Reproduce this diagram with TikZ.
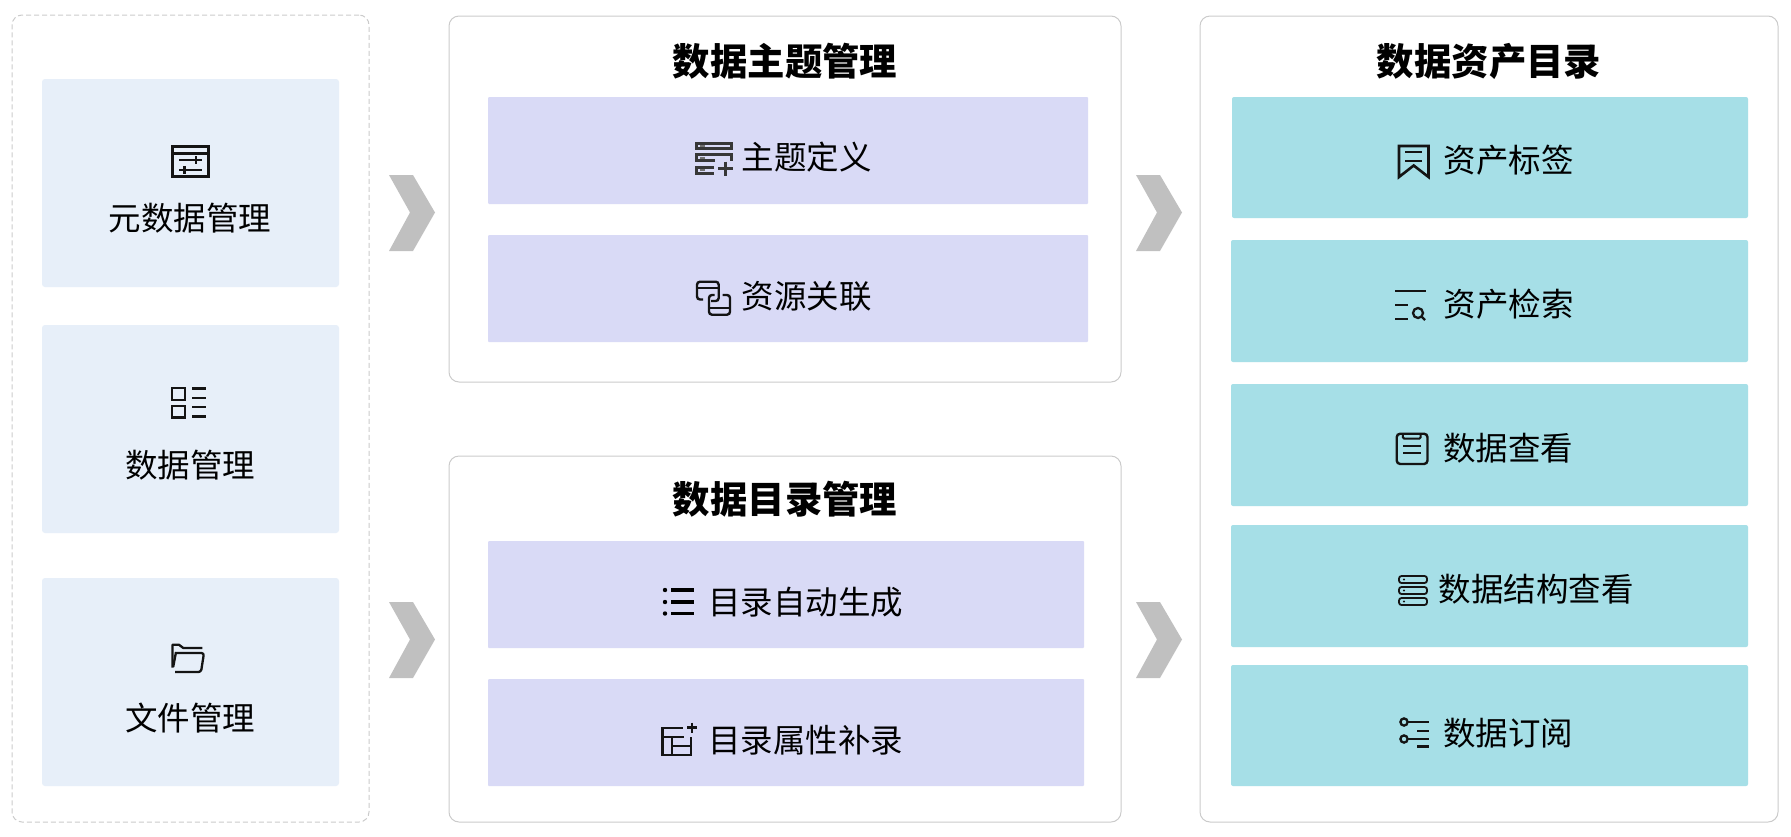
\documentclass[tikz,border=0pt]{standalone}
\usepackage{fontspec}
\setmainfont{Noto Sans CJK SC}
\definecolor{cardblue}{HTML}{E7EFF9}
\definecolor{cardviolet}{HTML}{D9DAF6}
\definecolor{cardteal}{HTML}{A6DFE7}
\definecolor{edgegray}{HTML}{CBCBCB}
\definecolor{chevgray}{HTML}{C0C0C0}
\definecolor{inkgray}{HTML}{141414}
\tikzset{
  panel/.style={rectangle,draw=edgegray,line width=1pt,fill=white,rounded corners=10pt,inner sep=0pt},
  dashpanel/.style={panel,dash pattern=on 5pt off 3pt},
  card/.style={rectangle,rounded corners=3pt,inner sep=0pt},
  bluecard/.style={card,fill=cardblue},
  violetcard/.style={card,fill=cardviolet,rounded corners=1pt},
  tealcard/.style={card,fill=cardteal,rounded corners=2pt},
  label/.style={inner sep=0pt,text height=28.6pt,text depth=3.9pt,text=black,font=\fontsize{32.5}{32.5}\selectfont},
  heading/.style={inner sep=0pt,text height=32.9pt,text depth=4.5pt,text=black,font=\fontsize{37.4}{37.4}\selectfont\bfseries},
  ico/.style={draw=inkgray,line width=2.3pt,line cap=butt},
  thickico/.style={draw=inkgray!85,line width=3pt},
  chev/.style={fill=chevgray,draw=none},
}
\begin{document}
\begin{tikzpicture}[x=1pt,y=-1pt]
\useasboundingbox (0,0) rectangle (1791,836);
% panels
\node[dashpanel,minimum width=357pt,minimum height=807pt] (left) at (190.5,418.5) {};
\node[panel,minimum width=672pt,minimum height=366pt] (topic) at (785,199) {};
\node[panel,minimum width=672pt,minimum height=366pt] (catalog) at (785,639) {};
\node[panel,minimum width=578pt,minimum height=806pt] (asset) at (1489,419) {};
% left cards
\node[bluecard,minimum width=297pt,minimum height=208pt] (c1) at (190.5,183) {};
\node[bluecard,minimum width=297pt,minimum height=208pt] (c2) at (190.5,429) {};
\node[bluecard,minimum width=297pt,minimum height=208pt] (c3) at (190.5,682) {};
\node[label] (t1) at (190,218.5) {元数据管理};
\node[label] (t2) at (190,465.5) {数据管理};
\node[label] (t3) at (190,718.5) {文件管理};
% middle cards
\node[violetcard,minimum width=600pt,minimum height=107pt] (m1) at (788,150.5) {};
\node[violetcard,minimum width=600pt,minimum height=107pt] (m2) at (788,288.5) {};
\node[violetcard,minimum width=596pt,minimum height=107pt] (m3) at (786,594.5) {};
\node[violetcard,minimum width=596pt,minimum height=107pt] (m4) at (786,732.5) {};
\node[heading] (h1) at (785,61.5) {数据主题管理};
\node[heading] (h2) at (785,499.5) {数据目录管理};
\node[label] (t4) at (806.5,157.5) {主题定义};
\node[label] (t5) at (806.5,296.5) {资源关联};
\node[label] (t6) at (805.5,602.5) {目录自动生成};
\node[label] (t7) at (805.5,740.5) {目录属性补录};
% right cards
\node[tealcard,minimum width=516pt,minimum height=121pt] (r1) at (1490,157.5) {};
\node[tealcard,minimum width=517pt,minimum height=122pt] (r2) at (1489.5,301) {};
\node[tealcard,minimum width=517pt,minimum height=122pt] (r3) at (1489.5,445) {};
\node[tealcard,minimum width=517pt,minimum height=122pt] (r4) at (1489.5,586) {};
\node[tealcard,minimum width=517pt,minimum height=121pt] (r5) at (1489.5,725.5) {};
\node[heading] (h3) at (1489,61.5) {数据资产目录};
\node[label] (t8) at (1508.5,160.5) {资产标签};
\node[label] (t9) at (1508.5,304.5) {资产检索};
\node[label] (t10) at (1508,448.5) {数据查看};
\node[label] (t11) at (1536,589.5) {数据结构查看};
\node[label] (t12) at (1508,733.5) {数据订阅};
% chevrons
\fill[chev] (389,175) -- (413,175) -- (435,212.5) -- (413,251) -- (389,251) -- (410,212.5) -- cycle;
\fill[chev] (389,602) -- (413,602) -- (435,639.5) -- (413,678) -- (389,678) -- (410,639.5) -- cycle;
\fill[chev] (1136,175) -- (1160,175) -- (1182,212.5) -- (1160,251) -- (1136,251) -- (1157,212.5) -- cycle;
\fill[chev] (1136,602) -- (1160,602) -- (1182,639.5) -- (1160,678) -- (1136,678) -- (1157,639.5) -- cycle;
% icon: metadata
\draw[ico,line width=2.6pt] (172.5,146.3) rectangle (208.3,176.3);
\draw[ico] (172.5,153.5) -- (208.3,153.5);
\draw[ico,line width=2pt] (179,160.3) -- (201.7,160.3) (179,169.7) -- (201.7,169.7);
\draw[ico,line width=2.6pt] (196,156.3) -- (196,164.3) (184.3,166) -- (184.3,173.5);
% icon: data
\draw[ico] (172,388) rectangle (185,400) (172,406) rectangle (185,417.5);
\draw[ico] (192,388.5) -- (206,388.5) (192,398) -- (206,398) (192,407) -- (206,407) (192,416.5) -- (206,416.5);
% icon: folder
\draw[ico,line join=round] (172.5,667.5) -- (172.5,644.8) -- (179,644.8) -- (183.3,648) -- (202.3,648);
\draw[ico,line join=round,rounded corners=2.5pt] (175.5,653) -- (204,653) -- (201,672) -- (175,672);
\draw[ico] (176,652) -- (173.2,667);
% icon: topic definition
\draw[thickico] (696,143) rectangle (731,148.7);
\draw[thickico] (715,160) -- (696,160) -- (696,154) -- (731,154) -- (731,160.5);
\draw[thickico] (714,167) -- (696,167) -- (696,173.5) -- (714,173.5);
\draw[thickico,line width=3.2pt] (718,168.7) -- (733,168.7) (725.7,161.5) -- (725.7,176);
\draw[ico,line width=1.6pt,draw=inkgray!60] (700,145.8) -- (704.5,145.8) (700,157.7) -- (704.5,157.7) (700,170.2) -- (704.5,170.2);
% icon: resource link
\draw[ico,rounded corners=3pt,line width=2.4pt] (703,299.5) -- (697,299.5) -- (697,281.7) -- (718.7,281.7) -- (718.7,301) -- (711,301);
\draw[ico,line width=2pt] (697,287.5) -- (718.7,287.5);
\draw[ico,rounded corners=3pt,line width=2.4pt] (714.5,295) -- (709,295) -- (709,314.7) -- (730,314.7) -- (730,295) -- (722.5,295);
\draw[ico,line width=2pt] (709,308.3) -- (730,308.3);
% icon: list
\fill[black] (665,590) circle (2.2pt) (665,602) circle (2.2pt) (665,613.5) circle (2.2pt);
\draw[ico,draw=black,line width=3.4pt] (671,590) -- (694,590) (671,602) -- (694,602) (671,613.5) -- (694,613.5);
% icon: attribute fill
\draw[ico,line join=miter] (682.5,727.7) -- (662.5,727.7) -- (662.5,755) -- (691,755) -- (691,737);
\draw[ico] (662.5,737) -- (683.5,737) (672.3,737) -- (672.3,755) (672.3,745.8) -- (691,745.8);
\draw[ico,line width=2.6pt] (687,727.7) -- (697,727.7) (692,722.7) -- (692,732.7);
% icon: bookmark
\draw[ico,line width=2.6pt,line join=miter] (1399,146) -- (1428.5,146) -- (1428.5,177) -- (1413.7,165.5) -- (1399,177) -- cycle;
\draw[ico] (1405,152) -- (1422,152) (1405,161) -- (1422,161);
% icon: search
\draw[ico] (1395,291) -- (1426,291) (1395,305) -- (1408,305) (1395,319) -- (1408,319);
\draw[ico] (1418,313) circle (5pt);
\draw[ico] (1421.5,316.5) -- (1425,320);
% icon: view
\draw[ico,rounded corners=3.5pt,line width=2.4pt] (1396.7,433.7) rectangle (1427.5,464);
\draw[ico,rounded corners=1.5pt,line width=2pt] (1402.8,433.7) -- (1402.8,438.7) -- (1420.7,438.7) -- (1420.7,433.7);
\draw[ico] (1403.3,446) -- (1420.7,446) (1403.3,452.8) -- (1420.7,452.8);
% icon: structure
\draw[ico,rounded corners=2.5pt,line width=1.8pt] (1399,576) rectangle (1427,583);
\draw[ico,rounded corners=2.5pt,line width=1.8pt] (1399,587) rectangle (1427,594);
\draw[ico,rounded corners=2.5pt,line width=1.8pt] (1399,598) rectangle (1427,605);
\fill[inkgray] (1404,579.5) circle (1.2pt) (1404,590.5) circle (1.2pt) (1404,601.5) circle (1.2pt);
% icon: subscribe
\draw[ico] (1404,722) circle (3.6pt) (1404,739) circle (3.6pt);
\draw[ico] (1408,722) -- (1429,722) (1417,731) -- (1429,731) (1408,739) -- (1429,739) (1417,746.5) -- (1429,746.5);
\end{tikzpicture}
\end{document}
